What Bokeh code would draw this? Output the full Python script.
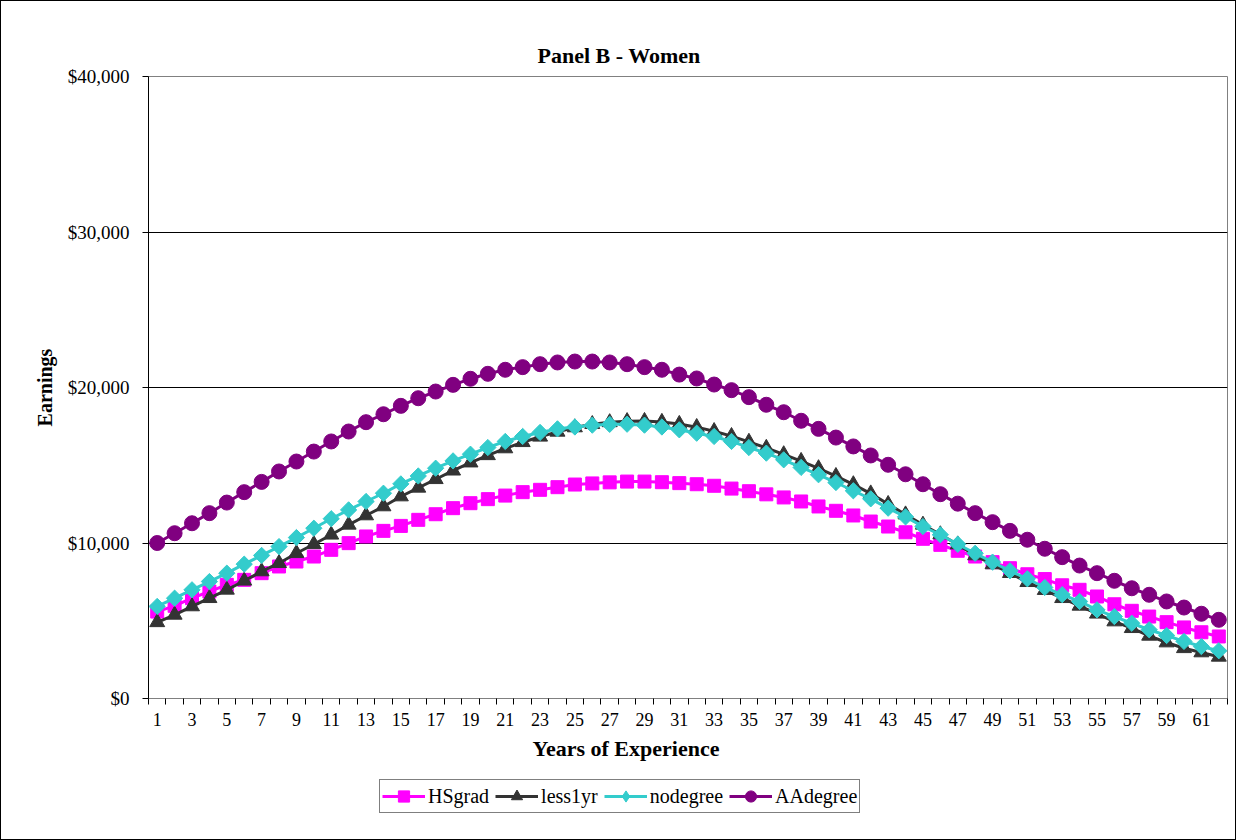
import numpy as np
from bokeh.plotting import figure
from bokeh.layouts import column
from bokeh.models import (FixedTicker, NumeralTickFormatter, Legend, LegendItem,
                          Range1d, Title)
from bokeh.embed import file_html
from bokeh.resources import INLINE

years = list(range(1, 63))

hsgrad = [5590, 5960, 6450, 6880, 7310, 7630, 8060, 8490, 8810, 9130,
          9560, 9990, 10420, 10780, 11100, 11490, 11850, 12240, 12560, 12820,
          13050, 13270, 13420, 13590, 13760, 13830, 13900, 13950, 13950, 13910,
          13850, 13780, 13680, 13500, 13330, 13130, 12930, 12670, 12350, 12070,
          11770, 11380, 11060, 10690, 10270, 9880, 9500, 9130, 8770, 8380,
          7990, 7680, 7280, 6990, 6560, 6060, 5640, 5270, 4910, 4570,
          4260, 3990]

less1yr = [4900, 5380, 5920, 6450, 6990, 7570, 8170, 8700, 9340, 9920,
           10530, 11170, 11770, 12350, 12990, 13550, 14100, 14650, 15170, 15640,
           16080, 16480, 16830, 17150, 17430, 17640, 17760, 17830, 17840, 17780,
           17650, 17450, 17190, 16870, 16500, 16110, 15700, 15270, 14800, 14300,
           13770, 13180, 12500, 11830, 11170, 10550, 9900, 9200, 8620, 8060,
           7480, 6970, 6450, 5960, 5450, 4950, 4520, 4030, 3600, 3230,
           2960, 2680]

nodegree = [5920, 6450, 6990, 7520, 8060, 8640, 9200, 9770, 10350, 10950,
            11560, 12130, 12670, 13200, 13800, 14310, 14810, 15280, 15710, 16140,
            16530, 16850, 17110, 17340, 17460, 17580, 17630, 17640, 17580, 17460,
            17280, 17060, 16850, 16530, 16140, 15780, 15350, 14860, 14390, 13890,
            13360, 12840, 12240, 11680, 11060, 10530, 9920, 9340, 8770, 8210,
            7700, 7140, 6680, 6240, 5700, 5270, 4840, 4420, 4050, 3670,
            3340, 3070]

aadegree = [10000, 10630, 11270, 11920, 12600, 13270, 13930, 14600, 15240, 15880,
            16530, 17170, 17770, 18280, 18820, 19310, 19740, 20170, 20560, 20880,
            21140, 21310, 21500, 21610, 21670, 21670, 21610, 21500, 21310, 21140,
            20830, 20580, 20190, 19830, 19380, 18890, 18410, 17860, 17340, 16780,
            16210, 15630, 15030, 14420, 13780, 13140, 12530, 11920, 11340, 10780,
            10210, 9630, 9090, 8550, 8060, 7570, 7090, 6670, 6240, 5850,
            5450, 5060]

series_names = ["HSgrad", "less1yr", "nodegree", "AAdegree"]
x_tick_labels = [str(v) for v in range(1, 62, 2)]
y_ticks = [0, 10000, 20000, 30000, 40000]

FONT = "Liberation Serif"
W = 1234

p = figure(width=W, height=770, output_backend="svg", toolbar_location=None,
           x_range=Range1d(0.5, 62.5), y_range=Range1d(0, 40000),
           min_border_left=147, min_border_right=8, min_border_top=75,
           min_border_bottom=73)
p.background_fill_color = "white"
p.border_fill_color = "white"
p.outline_line_color = "#808080"
p.outline_line_width = 1

p.title = Title(text="Panel B - Women", align="left", offset=389,
                text_font=FONT, text_font_style="bold", text_font_size="22px",
                text_color="black", standoff=18)

p.xaxis.ticker = FixedTicker(ticks=[int(t) for t in x_tick_labels],
                             minor_ticks=[v + 0.5 for v in range(0, 63)])
p.xaxis.major_tick_line_color = None
p.xaxis.minor_tick_line_color = "black"
p.xaxis.minor_tick_out = 6
p.xaxis.minor_tick_in = 0
p.xaxis.axis_line_color = "#808080"
p.xaxis.major_label_text_font = FONT
p.xaxis.major_label_text_font_size = "18px"
p.xaxis.major_label_text_color = "black"
p.xaxis.major_label_standoff = 8

p.yaxis.ticker = FixedTicker(ticks=y_ticks)
p.yaxis.formatter = NumeralTickFormatter(format="$0,0")
p.yaxis.minor_tick_line_color = None
p.yaxis.major_tick_out = 6
p.yaxis.major_tick_in = 0
p.yaxis.axis_line_color = "black"
p.yaxis.major_label_text_font = FONT
p.yaxis.major_label_text_font_size = "19px"
p.yaxis.major_label_text_color = "black"
p.yaxis.major_label_standoff = 13
p.yaxis.axis_label = "Earnings"
p.yaxis.axis_label_text_font = FONT
p.yaxis.axis_label_text_font_style = "bold"
p.yaxis.axis_label_text_font_size = "20px"
p.yaxis.axis_label_text_color = "black"
p.yaxis.axis_label_standoff = 9

p.xgrid.grid_line_color = None
p.ygrid.ticker = FixedTicker(ticks=[10000, 20000, 30000])
p.ygrid.grid_line_color = "black"
p.ygrid.grid_line_width = 1

xlab = Title(text="Years of Experience", align="left", offset=384,
             text_font=FONT, text_font_style="bold", text_font_size="22px",
             text_color="black", standoff=10)
p.add_layout(xlab, "below")

# legend strip: a second figure whose frame only hosts the legend
lg = figure(width=W, height=68, output_backend="svg", toolbar_location=None,
            x_range=Range1d(-100, -99), y_range=Range1d(-100, -99),
            min_border=0)
lg.axis.visible = False
lg.grid.visible = False
lg.outline_line_color = None
lg.background_fill_color = "white"
lg.border_fill_color = "white"

specs = [
    (hsgrad, "#FF00FF", "square", 13, 0, "square"),
    (less1yr, "#333333", "triangle", 15, 0, "triangle"),
    (nodegree, "#33CCCC", "square", 11.5, np.pi / 4, "diamond"),
    (aadegree, "#800080", "circle", 15, 0, "circle"),
]
items = []
for name, (vals, color, marker, size, angle, lmarker) in zip(series_names, specs):
    p.line(years, vals, line_color=color, line_width=3)
    p.scatter(years, vals, marker=marker, size=size, angle=angle,
              fill_color=color, line_color=color, line_width=1)
    ln = lg.line(years, vals, line_color=color, line_width=3)
    sc = lg.scatter(years, vals, marker=lmarker, size=size,
                    fill_color=color, line_color=color, line_width=1)
    items.append(LegendItem(label=name, renderers=[ln, sc]))

legend = Legend(items=items, orientation="horizontal", location=(231, 26),
                label_text_font=FONT, label_text_font_size="20px",
                label_text_color="black", border_line_color="black",
                border_line_width=1, glyph_width=43, glyph_height=28,
                spacing=6, padding=2, margin=0, label_standoff=3,
                label_height=28, background_fill_alpha=1)
lg.add_layout(legend, "center")

layout = column(p, lg, spacing=0)
layout.styles = {"border": "1px solid black", "box-sizing": "border-box"}

open("out.html", "w").write(file_html(layout, INLINE))
